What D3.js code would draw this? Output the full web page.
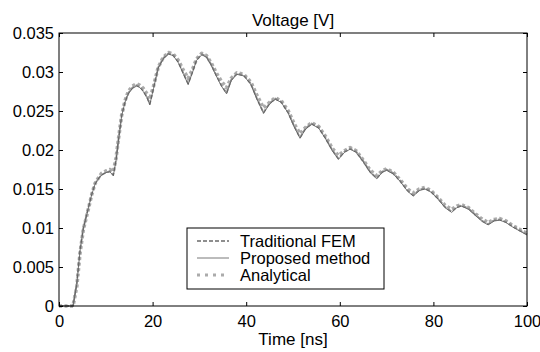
<!DOCTYPE html>
<html>
<head>
<meta charset="utf-8">
<script src="https://cdn.jsdelivr.net/npm/d3@7"></script>
<style>
  body { margin: 0; background: #fff; }
  text { font-family: "Liberation Sans", Arial, sans-serif; fill: #000; }
</style>
</head>
<body>
<svg></svg>
<script>
var width = 540;
var height = 352;

// time axis (ns), shared by all three curves
var timeNs = [0, 2, 3, 3.8, 4.5, 5.2, 6.3, 7, 7.7, 8.5, 9.1, 10, 10.9, 11.6, 12.2, 12.7, 13.4, 14.1, 14.8, 15.7,
    16.6, 17.3, 18, 18.8, 19.4, 20.2, 21.2, 22.3, 23.4, 24.4, 25.5, 26.6, 27.6, 28.5, 29.4, 30.5, 31.5, 32.5,
    33.6, 34.7, 35.8, 36.8, 38, 39.5, 41, 42.3, 43.7, 45, 46.2, 47.5, 49, 50.3, 51.5, 52.7, 54, 55.5, 57, 58.4,
    59.7, 61, 62.2, 63.5, 65, 66.5, 67.9, 69, 70, 71.5, 73, 74.5, 75.7, 77, 78.2, 79.5, 81, 82.5, 83.9, 85, 86,
    87.5, 89, 90.5, 91.7, 93, 94.2, 95.5, 97, 98.5, 100];

var femValues = [0, 0, 0, 0.0029, 0.0072, 0.0100, 0.0127, 0.0144, 0.0157, 0.0164, 0.0168, 0.0171, 0.0173, 0.0168,
    0.0188, 0.0213, 0.0245, 0.0262, 0.0273, 0.0280, 0.0283, 0.0281, 0.0276, 0.0268, 0.0259, 0.0280, 0.0306,
    0.0318, 0.0324, 0.0322, 0.0313, 0.0298, 0.0285, 0.0300, 0.0316, 0.0323, 0.0320, 0.0310, 0.0296, 0.0283,
    0.0273, 0.0290, 0.0298, 0.0296, 0.0285, 0.0266, 0.0248, 0.0260, 0.0266, 0.0262, 0.0248, 0.0230, 0.0216,
    0.0228, 0.0234, 0.0229, 0.0215, 0.0200, 0.0189, 0.0198, 0.0202, 0.0198, 0.0186, 0.0172, 0.0164, 0.0172,
    0.0175, 0.0170, 0.0160, 0.0148, 0.0142, 0.0149, 0.0151, 0.0147, 0.0138, 0.0127, 0.0121, 0.0127, 0.0129,
    0.0125, 0.0117, 0.0109, 0.0105, 0.0110, 0.0111, 0.0108, 0.0102, 0.0097, 0.0092];

var proposedValues = [0, 0, 0, 0.0028, 0.0071, 0.0099, 0.0126, 0.0143, 0.0156, 0.0164, 0.0168, 0.0171, 0.0172, 0.0167,
    0.0187, 0.0212, 0.0244, 0.0261, 0.0272, 0.0279, 0.0282, 0.0280, 0.0275, 0.0267, 0.0258, 0.0279, 0.0305,
    0.0317, 0.0323, 0.0321, 0.0312, 0.0297, 0.0284, 0.0299, 0.0315, 0.0322, 0.0319, 0.0309, 0.0295, 0.0282,
    0.0272, 0.0289, 0.0297, 0.0295, 0.0284, 0.0265, 0.0247, 0.0259, 0.0265, 0.0261, 0.0247, 0.0229, 0.0215,
    0.0227, 0.0233, 0.0228, 0.0214, 0.0199, 0.0188, 0.0197, 0.0201, 0.0197, 0.0185, 0.0171, 0.0163, 0.0171,
    0.0174, 0.0169, 0.0159, 0.0147, 0.0141, 0.0148, 0.0150, 0.0146, 0.0137, 0.0126, 0.0120, 0.0126, 0.0128,
    0.0124, 0.0116, 0.0108, 0.0104, 0.0109, 0.0110, 0.0107, 0.0101, 0.0096, 0.0091];

var analyticalValues = [0, 0, 0, 0.0025, 0.0068, 0.0098, 0.0125, 0.0143, 0.0157, 0.0165, 0.0170, 0.0173, 0.0175, 0.0172,
    0.0190, 0.0214, 0.0245, 0.0263, 0.0275, 0.0282, 0.0285, 0.0283, 0.0279, 0.0272, 0.0265, 0.0282, 0.0306,
    0.0319, 0.0325, 0.0323, 0.0315, 0.0302, 0.0292, 0.0303, 0.0317, 0.0324, 0.0321, 0.0312, 0.0299, 0.0288,
    0.0280, 0.0292, 0.0299, 0.0297, 0.0287, 0.0270, 0.0254, 0.0261, 0.0267, 0.0263, 0.0250, 0.0233, 0.0221,
    0.0229, 0.0235, 0.0230, 0.0217, 0.0202, 0.0193, 0.0199, 0.0203, 0.0199, 0.0187, 0.0174, 0.0167, 0.0173,
    0.0176, 0.0171, 0.0161, 0.0150, 0.0145, 0.0150, 0.0152, 0.0148, 0.0139, 0.0129, 0.0124, 0.0128, 0.0130,
    0.0126, 0.0118, 0.0111, 0.0107, 0.0111, 0.0112, 0.0109, 0.0103, 0.0098, 0.0093];

var legendNames = ["Traditional FEM", "Proposed method", "Analytical"];
var xTicks = [0, 20, 40, 60, 80, 100];
var yTicks = [0, 0.005, 0.01, 0.015, 0.02, 0.025, 0.03, 0.035];

var plotLeft = 59, plotRight = 527, plotTop = 33, plotBottom = 306;

var svg = d3.select('svg')
    .attr('width', width)
    .attr('height', height);

var x = d3.scaleLinear().domain([0, 100]).range([plotLeft, plotRight]);
var y = d3.scaleLinear().domain([0, 0.035]).range([plotBottom, plotTop]);

// curves: analytical underneath, then FEM, then proposed on top
var styles = [
    { values: femValues, stroke: '#8e8e8e', width: 1.8, dash: '4,2' },
    { values: proposedValues, stroke: '#555', width: 0.8, dash: null },
    { values: analyticalValues, stroke: '#ababab', width: 3.6, dash: '3,2.5' }
];

var line = d3.line()
    .x(function (d) { return x(d[0]); })
    .y(function (d) { return y(d[1]); });

[2, 0, 1].forEach(function (i) {
    var s = styles[i];
    svg.append('path')
        .datum(timeNs.map(function (t, j) { return [t, s.values[j]]; }))
        .attr('d', line)
        .attr('fill', 'none')
        .attr('stroke', s.stroke)
        .attr('stroke-width', s.width)
        .attr('stroke-dasharray', s.dash)
        .attr('stroke-linejoin', 'round');
});

// frame
svg.append('rect')
    .attr('x', plotLeft).attr('y', plotTop)
    .attr('width', plotRight - plotLeft).attr('height', plotBottom - plotTop)
    .attr('fill', 'none').attr('stroke', '#000').attr('stroke-width', 1);

// inward ticks on all sides
var xAxis = svg.append('g').attr('transform', 'translate(0,' + plotBottom + ')')
    .call(d3.axisBottom(x).tickValues(xTicks).tickSizeInner(-4).tickSizeOuter(0).tickPadding(9));
var xTop = svg.append('g').attr('transform', 'translate(0,' + plotTop + ')')
    .call(d3.axisTop(x).tickValues(xTicks).tickSizeInner(-4).tickSizeOuter(0).tickFormat(''));
var yAxis = svg.append('g').attr('transform', 'translate(' + plotLeft + ',0)')
    .call(d3.axisLeft(y).tickValues(yTicks).tickSizeInner(-4).tickSizeOuter(0).tickPadding(5)
        .tickFormat(function (d) { return d === 0 ? '0' : String(+d.toFixed(3)); }));
var yRight = svg.append('g').attr('transform', 'translate(' + plotRight + ',0)')
    .call(d3.axisRight(y).tickValues(yTicks).tickSizeInner(-4).tickSizeOuter(0).tickFormat(''));

[xAxis, xTop, yAxis, yRight].forEach(function (g) {
    g.select('.domain').remove();
    g.selectAll('line').attr('stroke', '#000');
    g.selectAll('text').attr('font-size', 16.5).attr('font-family', '"Liberation Sans", Arial, sans-serif').attr('fill', '#000');
});

svg.append('text')
    .attr('x', 293).attr('y', 26)
    .attr('text-anchor', 'middle')
    .attr('font-size', 17)
    .text('Voltage [V]');

svg.append('text')
    .attr('x', 293).attr('y', 345)
    .attr('text-anchor', 'middle')
    .attr('font-size', 17)
    .text('Time [ns]');

// legend
var legend = svg.append('g');
legend.append('rect')
    .attr('x', 187).attr('y', 228)
    .attr('width', 197).attr('height', 61)
    .attr('fill', '#fff').attr('stroke', '#000').attr('stroke-width', 1);

legendNames.forEach(function (name, i) {
    var s = styles[i];
    var cy = 241 + i * 17;
    legend.append('line')
        .attr('x1', 197).attr('x2', 229)
        .attr('y1', cy).attr('y2', cy)
        .attr('stroke', s.stroke)
        .attr('stroke-width', i === 2 ? 3 : (i === 0 ? 1.8 : 0.8))
        .attr('stroke-dasharray', i === 2 ? '3,5' : s.dash);
    legend.append('text')
        .attr('x', 240).attr('y', cy + 6)
        .attr('font-size', 16.5)
        .text(name);
});
</script>
</body>
</html>
